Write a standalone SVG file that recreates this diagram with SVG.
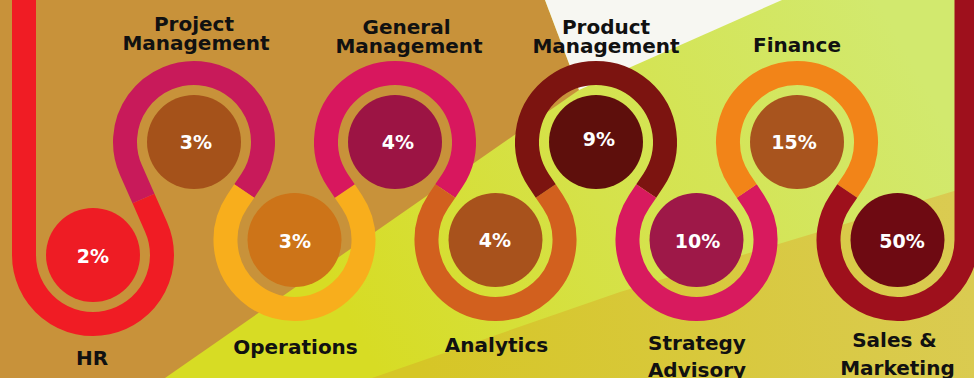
<svg xmlns="http://www.w3.org/2000/svg" width="974" height="378" viewBox="0 0 974 378">
  <defs>
    <linearGradient id="yg" gradientUnits="userSpaceOnUse" x1="900" y1="40" x2="360" y2="340">
      <stop offset="0" stop-color="#D2E96E"/>
      <stop offset="0.55" stop-color="#D5E24A"/>
      <stop offset="1" stop-color="#D7DC24"/>
    </linearGradient>
    <linearGradient id="gold" gradientUnits="userSpaceOnUse" x1="420" y1="378" x2="974" y2="260">
      <stop offset="0" stop-color="#D6C626"/>
      <stop offset="1" stop-color="#DACB52"/>
    </linearGradient>
    <linearGradient id="rbar" x1="0" y1="0" x2="1" y2="0">
      <stop offset="0" stop-color="#8C0C18"/>
      <stop offset="1" stop-color="#A8121E"/>
    </linearGradient>
    <style>
      .ring { fill: none; stroke-width: 24; stroke-linecap: butt; stroke-linejoin: miter; }
      .lbl { font-family: "DejaVu Sans", "Liberation Sans", sans-serif; font-weight: bold; font-size: 20px; fill: #111111; text-anchor: middle; }
      .pct { font-family: "DejaVu Sans", "Liberation Sans", sans-serif; font-weight: bold; font-size: 19px; fill: #FFFFFF; text-anchor: middle; }
    </style>
  </defs>

  <!-- background -->
  <rect x="0" y="0" width="974" height="378" fill="url(#yg)"/>
  <polygon points="372,378 620,292 974,185 974,378" fill="url(#gold)"/>
  <polygon points="0,0 545,0 579,90 165,378 0,378" fill="#C8923A"/>
  <polygon points="545,0 782,0 579,90" fill="#F7F7F2"/>

  <!-- connectors: the ring track -->
  <g id="connectors">
    <path class="ring" stroke="#F01C24" d="M 24 -5 L 24 255 A 69 69 0 1 0 156.13 227.17 L 143.5 198.5"/>
    <path class="ring" stroke="#C81A5A" d="M 143.5 198.5 L 130.87 169.83 A 69 69 0 1 1 251.39 180.32 L 244.25 191"/>
    <path class="ring" stroke="#F8AE1C" d="M 244.25 191 L 237.11 201.68 A 69 69 0 1 0 351.89 201.68 L 344.75 191"/>
    <path class="ring" stroke="#D8175E" d="M 344.75 191 L 337.61 180.32 A 69 69 0 1 1 452.39 180.32 L 445.25 191"/>
    <path class="ring" stroke="#D2601E" d="M 445.25 191 L 438.11 201.68 A 69 69 0 1 0 552.89 201.68 L 545.75 191"/>
    <path class="ring" stroke="#7C1410" d="M 545.75 191 L 538.61 180.32 A 69 69 0 1 1 653.39 180.32 L 646.25 191"/>
    <path class="ring" stroke="#D81A5E" d="M 646.25 191 L 639.11 201.68 A 69 69 0 1 0 753.89 201.68 L 746.75 191"/>
    <path class="ring" stroke="#F28418" d="M 746.75 191 L 739.61 180.32 A 69 69 0 1 1 854.39 180.32 L 847.25 191"/>
    <path class="ring" stroke="#9E101C" d="M 847.25 191 L 840.11 201.68 A 69 69 0 1 0 966.5 240 L 966.5 -5"/>
  </g>

  <g id="hr">
    <circle cx="93" cy="255" r="47" fill="#EE1C24"/>
    <text class="pct" x="93" y="263">2%</text>
    <text class="lbl" x="92" y="365">HR</text>
  </g>
  <g id="project-management">
    <circle cx="194" cy="142" r="47" fill="#A5521A"/>
    <text class="pct" x="196" y="149">3%</text>
    <text class="lbl" x="194" y="31">Project</text>
    <text class="lbl" x="196" y="50">Management</text>
  </g>
  <g id="operations">
    <circle cx="294.5" cy="240" r="47" fill="#CD7418"/>
    <text class="pct" x="295" y="248">3%</text>
    <text class="lbl" x="295.5" y="354">Operations</text>
  </g>
  <g id="general-management">
    <circle cx="395" cy="142" r="47" fill="#9C1444"/>
    <text class="pct" x="398" y="149">4%</text>
    <text class="lbl" x="406.5" y="34">General</text>
    <text class="lbl" x="409" y="53">Management</text>
  </g>
  <g id="analytics">
    <circle cx="495.5" cy="240" r="47" fill="#A8521C"/>
    <text class="pct" x="495" y="247">4%</text>
    <text class="lbl" x="496.5" y="352">Analytics</text>
  </g>
  <g id="product-management">
    <circle cx="596" cy="142" r="47" fill="#5E0F0C"/>
    <text class="pct" x="599" y="146">9%</text>
    <text class="lbl" x="606" y="34">Product</text>
    <text class="lbl" x="606" y="53">Management</text>
  </g>
  <g id="strategy-advisory">
    <circle cx="696.5" cy="240" r="47" fill="#9E1848"/>
    <text class="pct" x="697.5" y="248">10%</text>
    <text class="lbl" x="697" y="350">Strategy</text>
    <text class="lbl" x="697" y="377">Advisory</text>
  </g>
  <g id="finance">
    <circle cx="797" cy="142" r="47" fill="#A8541E"/>
    <text class="pct" x="794" y="149">15%</text>
    <text class="lbl" x="797" y="52">Finance</text>
  </g>
  <g id="sales-marketing">
    <circle cx="897.5" cy="240" r="47" fill="#6E0A12"/>
    <text class="pct" x="902" y="248">50%</text>
    <text class="lbl" x="894.5" y="347">Sales &amp;</text>
    <text class="lbl" x="897.5" y="375">Marketing</text>
  </g>
</svg>
